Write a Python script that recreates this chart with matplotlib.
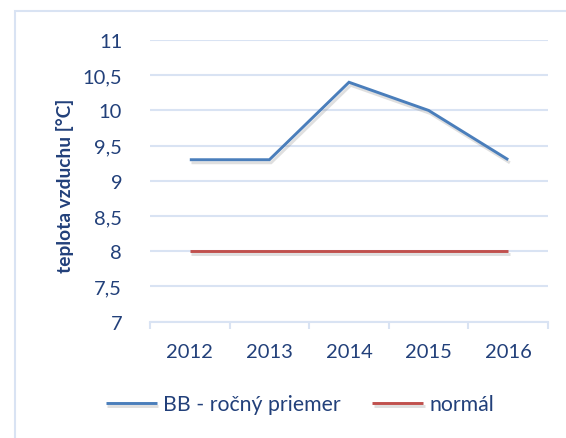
import matplotlib
matplotlib.use("Agg")
import matplotlib.pyplot as plt
import matplotlib.patheffects as pe
from matplotlib.patches import Rectangle
from matplotlib.ticker import FuncFormatter, MultipleLocator, FixedLocator

years = ["2012", "2013", "2014", "2015", "2016"]
bb_mean = [9.3, 9.3, 10.4, 10.0, 9.3]
normal = [8.0, 8.0, 8.0, 8.0, 8.0]
series_names = ["BB - ročný priemer", "normál"]
y_label = "teplota vzduchu [°C]"

TXT = "#22407A"
GRID = "#D9E3F3"
BLUE = "#4A7EBB"
RED = "#C0504D"

plt.rcParams['font.family'] = ['Lato', 'DejaVu Sans']

W, H = 566, 439
fig = plt.figure(figsize=(W / 100, H / 100), dpi=100)
ax = fig.add_axes([150 / W, (H - 322.7) / H, (548 - 150) / W, (322.7 - 41) / H])

x = list(range(len(years)))
shadow = [pe.SimpleLineShadow(offset=(1.2, -2.2), shadow_color="gray", alpha=0.25), pe.Normal()]
ax.plot(x, bb_mean, color=BLUE, lw=2.1, label=series_names[0], path_effects=shadow,
        solid_joinstyle="miter", solid_capstyle="butt")
ax.plot(x, normal, color=RED, lw=2.1, label=series_names[1], path_effects=shadow,
        solid_capstyle="butt")

ax.set_xlim(-0.5, len(years) - 0.5)
ax.set_ylim(7, 11)
ax.yaxis.set_major_locator(MultipleLocator(0.5))
ax.yaxis.set_major_formatter(FuncFormatter(lambda v, p: (f"{v:g}").replace(".", ",")))
ax.set_xticks(x)
ax.set_xticklabels(years)
ax.xaxis.set_minor_locator(FixedLocator([i - 0.5 for i in range(len(years) + 1)]))

ax.grid(axis="y", color=GRID, lw=1.5)
ax.set_axisbelow(True)
for s in ["top", "right", "left"]:
    ax.spines[s].set_visible(False)
ax.spines["bottom"].set_color(GRID)
ax.spines["bottom"].set_linewidth(1.5)

ax.tick_params(axis="y", length=0, pad=20, labelsize=14.5, labelcolor=TXT)
ax.tick_params(axis="x", which="major", length=0, pad=15, labelsize=14.5, labelcolor=TXT)
ax.tick_params(axis="x", which="minor", length=5, width=1.5, color=GRID, direction="out")

fig.text(65 / W, (H - 186) / H, y_label, rotation=90, ha="center", va="center",
         fontsize=13.8, fontweight="bold", color=TXT)

leg = fig.legend(loc="center", bbox_to_anchor=(300 / W, (H - 405) / H), ncol=2, frameon=False,
                 fontsize=15.3, handlelength=2.4, handletextpad=0.3, columnspacing=1.5)
for t in leg.get_texts():
    t.set_color(TXT)

fig.patches.append(Rectangle((14.5 / W, -0.1), 2, (H - 11.5) / H + 0.1, transform=fig.transFigure,
                             fill=False, edgecolor=GRID, lw=1.5))

fig.savefig("out.png", dpi=100)
